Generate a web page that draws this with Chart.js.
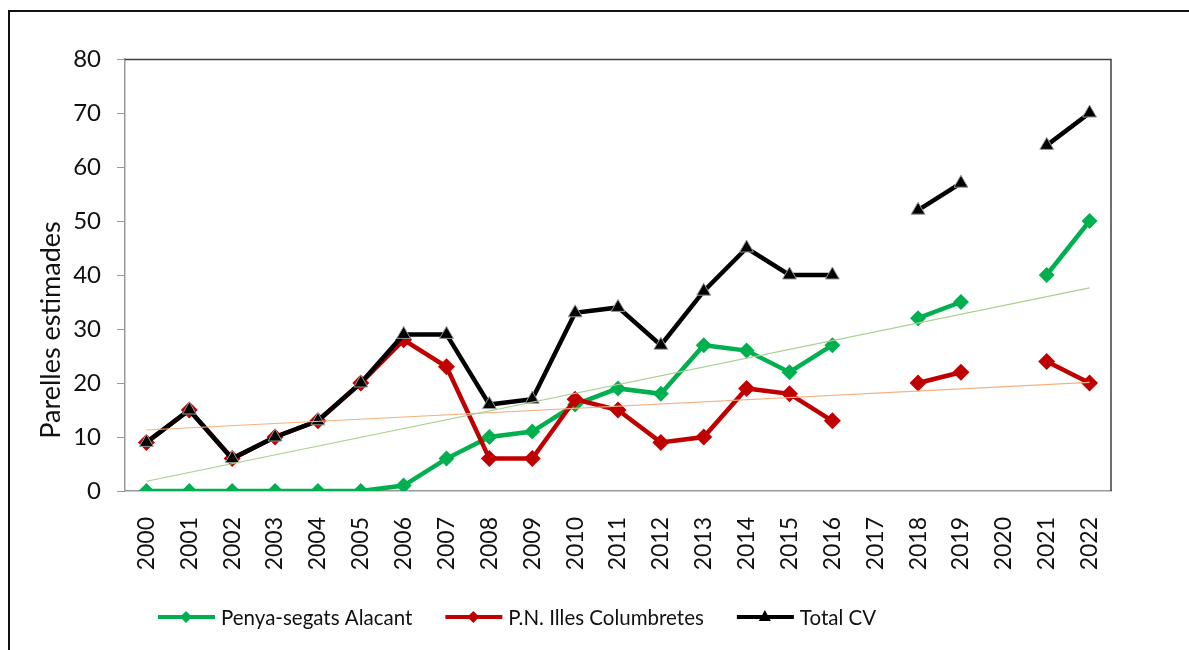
<!DOCTYPE html>
<html lang="ca">
<head>
<meta charset="UTF-8">
<title>Parelles estimades</title>
<script src="https://cdn.jsdelivr.net/npm/chart.js"></script>
<style>
  body { margin: 0; background: #fff; }
  #wrap { position: absolute; left: 0; top: 0; width: 1189px; height: 650px; }
  #frame { position: absolute; left: 8px; top: 10px; width: 1300px; height: 800px;
           border-left: 2px solid #111; border-top: 2px solid #111; }
</style>
</head>
<body>
<div id="frame"></div>
<div id="wrap"><canvas id="chart"></canvas></div>
<script>
var years = ['2000','2001','2002','2003','2004','2005','2006','2007','2008','2009','2010',
             '2011','2012','2013','2014','2015','2016','2017','2018','2019','2020','2021','2022'];

var penyaSegats = [0,0,0,0,0,0,1,6,10,11,16,19,18,27,26,22,27,null,32,35,null,40,50];
var columbretes = [9,15,6,10,13,20,28,23,6,6,17,15,9,10,19,18,13,null,20,22,null,24,20];
var totalCV     = [9,15,6,10,13,20,29,29,16,17,33,34,27,37,45,40,40,null,52,57,null,64,70];

// trend lines, end points
var trendPenya = [1.8,null,null,null,null,null,null,null,null,null,null,null,null,null,null,null,null,null,null,null,null,null,37.6];
var trendColum = [11.3,null,null,null,null,null,null,null,null,null,null,null,null,null,null,null,null,null,null,null,null,null,20.1];

var yTitle = 'Parelles estimades';

var fontName = 'Lato, "Open Sans", sans-serif';
var textColor = '#111';

var legendItems = [
    { label: 'Penya-segats Alacant', color: '#00b050', marker: 'diamond' },
    { label: 'P.N. Illes Columbretes', color: '#c00000', marker: 'diamond' },
    { label: 'Total CV', color: '#000', marker: 'triangle' }
];

var boxPlugin = {
    id: 'boxPlugin',
    beforeDatasetsDraw: function(chart) {
        var a = chart.chartArea, ctx = chart.ctx;
        ctx.save();
        ctx.lineWidth = 1.5;
        ctx.strokeStyle = '#404040';
        ctx.beginPath();
        ctx.moveTo(a.left, a.top + 0.5);
        ctx.lineTo(a.right, a.top + 0.5);
        ctx.lineTo(a.right, a.bottom);
        ctx.stroke();
        ctx.restore();
    }
};

// axis title sits lower than the plot centre in the original
var titlePlugin = {
    id: 'titlePlugin',
    afterDraw: function(chart) {
        var ctx = chart.ctx;
        ctx.save();
        ctx.translate(51, 330);
        ctx.rotate(-Math.PI / 2);
        ctx.font = '27px ' + fontName;
        ctx.fillStyle = textColor;
        ctx.textAlign = 'center';
        ctx.textBaseline = 'middle';
        ctx.fillText(yTitle, 0, 0);
        ctx.restore();
    }
};

var legendPlugin = {
    id: 'legendPlugin',
    afterDraw: function(chart) {
        var ctx = chart.ctx;
        var x = 158, y = 617;
        ctx.save();
        ctx.font = '20.5px ' + fontName;
        ctx.textBaseline = 'middle';
        legendItems.forEach(function(it) {
            ctx.strokeStyle = it.color;
            ctx.lineWidth = 4;
            ctx.beginPath();
            ctx.moveTo(x, y);
            ctx.lineTo(x + 57, y);
            ctx.stroke();
            var cx = x + 28;
            ctx.fillStyle = it.color;
            ctx.beginPath();
            if (it.marker === 'diamond') {
                ctx.moveTo(cx, y - 6); ctx.lineTo(cx + 6, y); ctx.lineTo(cx, y + 6); ctx.lineTo(cx - 6, y);
            } else {
                ctx.moveTo(cx, y - 7); ctx.lineTo(cx + 6, y + 4); ctx.lineTo(cx - 6, y + 4);
            }
            ctx.closePath();
            ctx.fill();
            ctx.fillStyle = textColor;
            ctx.fillText(it.label, x + 63, y + 1);
            x += 63 + ctx.measureText(it.label).width + 33;
        });
        ctx.restore();
    }
};

var ctx = document.getElementById('chart').getContext('2d');
var chart = new Chart(ctx, {
    type: 'line',
    data: {
        labels: years,
        datasets: [
            { label: 'trend Penya', data: trendPenya, borderColor: '#a9d18e', borderWidth: 1.2,
              pointRadius: 0, spanGaps: true, order: 0 },
            { label: 'trend Columbretes', data: trendColum, borderColor: '#f4b183', borderWidth: 1.2,
              pointRadius: 0, spanGaps: true, order: 0 },
            { label: 'Total CV', data: totalCV, borderColor: '#000', backgroundColor: '#000',
              borderWidth: 4.5, pointStyle: 'triangle', pointRadius: 8, pointBorderColor: '#999',
              pointBorderWidth: 1, pointBackgroundColor: '#000', order: 1 },
            { label: 'P.N. Illes Columbretes', data: columbretes, borderColor: '#c00000', backgroundColor: '#c00000',
              borderWidth: 4.5, pointStyle: 'rectRot', pointRadius: 8.5, pointBorderWidth: 0, order: 2 },
            { label: 'Penya-segats Alacant', data: penyaSegats, borderColor: '#00b050', backgroundColor: '#00b050',
              borderWidth: 4.5, pointStyle: 'rectRot', pointRadius: 8, pointBorderWidth: 0, order: 3 }
        ]
    },
    options: {
        responsive: true,
        maintainAspectRatio: false,
        animation: false,
        layout: { padding: { left: 0, top: 59, right: 78, bottom: 0 } },
        plugins: { legend: { display: false }, tooltip: { enabled: false } },
        scales: {
            x: {
                offset: true,
                grid: { display: false },
                border: { color: '#999', width: 1.5 },
                ticks: { color: textColor, font: { family: fontName, size: 23 },
                         minRotation: 90, maxRotation: 90, padding: 18, autoSkip: false },
                afterFit: function(s) { s.height = 159; }
            },
            y: {
                min: 0, max: 80,
                grid: { drawOnChartArea: false, tickLength: 8, color: '#999' },
                border: { color: '#999', width: 1.5 },
                ticks: { stepSize: 10, color: textColor, font: { family: fontName, size: 24 }, padding: 16 },
                afterFit: function(s) { s.width = 125; }
            }
        }
    },
    plugins: [boxPlugin, titlePlugin, legendPlugin]
});
</script>
</body>
</html>
